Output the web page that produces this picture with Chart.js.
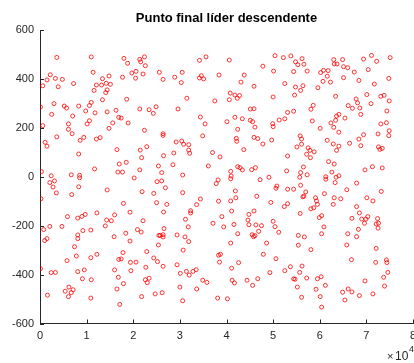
<!DOCTYPE html>
<html>
<head>
<meta charset="utf-8">
<script src="https://cdn.jsdelivr.net/npm/chart.js@4/dist/chart.umd.min.js"></script>
<style>
  html, body { margin: 0; padding: 0; background: #fff; }
</style>
</head>
<body>
<canvas id="c" width="414" height="363"></canvas>
<script>
// Scatter of descending-leader end points as [x, y] pairs.
const TITLE = 'Punto final líder descendente';
const X_TICKS = [0, 10000, 20000, 30000, 40000, 50000, 60000, 70000, 80000];
const Y_TICKS = [-600, -400, -200, 0, 200, 400, 600];

// upper band, x 0 .. 2.6e4
const ptsA = [
  [3600,488],[11000,490],[18000,484],[21400,480],[21600,470],[22400,490],[18800,464],[22600,454],
  [2200,417],[600,372],[1500,396],[3300,402],[4800,398],[3900,368],[7200,381],[11400,427],
  [13400,401],[14800,412],[12100,375],[13200,375],[14200,382],[15100,378],[11600,353],[14400,355],
  [14100,344],[17700,407],[19700,424],[20600,431],[20500,403],[22100,420],[25600,427],[18600,317],
  [13400,315],[100,285],[3000,299],[5200,289],[5700,281],[8300,289],[10600,291],[11000,304],
  [9800,269],[11800,261],[14400,265],[16300,272],[16900,243],[17400,240],[2500,255],[7000,248],
  [10600,229],[21400,277],[23400,274],[24900,286],[24300,259]
];
// middle band, x 0 .. 2.6e4
const ptsB = [
  [600,209],[6100,216],[6100,194],[6900,176],[10100,216],[15600,220],[14800,198],[18900,220],
  [22400,190],[3600,163],[1100,141],[1500,125],[8600,149],[9400,161],[12100,154],[12900,160],
  [8300,93],[16500,111],[21500,109],[22900,123],[21800,78],[17000,52],[18500,59],[25400,44],
  [300,21],[11700,32],[16700,19],[17700,19],[21400,28],[6700,8],[8500,6],[8500,-4],
  [2400,4],[20200,-5],[3100,-17],[2100,-24],[25100,-20],[2800,-42],[8300,-41],[3500,-66],
  [6800,-73],[14400,-54],[21900,-61],[24400,-68],[200,-90],[17900,-109],[25000,-106],[12200,-148],
  [19300,-145],[9700,-154],[9000,-162],[8100,-169],[5900,-163],[16000,-156],[14300,-177],[15300,-180],
  [22100,-180]
];
// lower band, x 0 .. 2.6e4
const ptsC = [
  [800,-216],[2100,-203],[4700,-203],[1000,-261],[1500,-253],[8100,-238],[8100,-253],[9200,-220],
  [10900,-218],[14000,-201],[15900,-245],[18400,-231],[20900,-216],[21700,-226],[19300,-263],[25500,-240],
  [25400,-279],[7400,-286],[17800,-310],[22900,-306],[7800,-324],[12200,-317],[10900,-331],[16900,-338],
  [17400,-336],[5800,-343],[19400,-350],[20600,-349],[24400,-332],[25200,-347],[22700,-370],[100,-376],
  [2400,-392],[3300,-391],[8100,-388],[9500,-381],[16000,-381],[19500,-384],[9100,-417],[11000,-421],
  [16800,-411],[17900,-437],[22600,-421],[23000,-433],[23400,-415],[6200,-451],[5400,-468],[7100,-462],
  [6700,-474],[6100,-490],[1600,-484],[16500,-459],[10900,-496],[21800,-490],[24700,-479],[17100,-522],
  [30600,-507]
];
// upper band, x 2.6e4 .. 5.2e4
const ptsD = [
  [34200,476],[35600,490],[40600,477],[50400,495],[26400,398],[28900,407],[30500,427],[30300,385],
  [34200,404],[34600,413],[35100,400],[38400,416],[43800,416],[43100,387],[45900,370],[47800,452],
  [50100,432],[31500,321],[37500,310],[40800,342],[40600,315],[41800,334],[42800,332],[42300,321],
  [50000,326],[29600,277],[45100,277],[45900,278],[34400,244],[41800,243],[43400,237],[40100,225],
  [45100,231],[45600,225],[35400,216],[49900,217],[51300,232]
];
// middle band, x 2.6e4 .. 5.2e4
const ptsE = [
  [50000,205],[42400,194],[46100,203],[26400,176],[26400,169],[34900,167],[42100,157],[42200,145],
  [45900,161],[46700,156],[49700,150],[47800,134],[29200,142],[30400,146],[30800,133],[31900,131],
  [31900,109],[32100,96],[28700,97],[26500,86],[37000,99],[38600,81],[43700,111],[28500,49],
  [36100,44],[42400,41],[42900,37],[43400,28],[45400,29],[46200,37],[40900,22],[26100,17],
  [30600,7],[41000,3],[40900,-8],[26100,-17],[38200,-13],[37800,-28],[47200,-12],[49100,-2],
  [50800,-38],[50600,-47],[26900,-45],[30600,-65],[41900,-58],[42000,-86],[46500,-80],[34400,-91],
  [38300,-100],[40900,-99],[27200,-113],[33600,-114],[49500,-105],[26500,-144],[32300,-139],[32300,-148],
  [41100,-140],[45900,-140],[44800,-154],[39000,-163],[31200,-174],[44600,-177]
];
// lower band, x 2.6e4 .. 5.2e4
const ptsF = [
  [37100,-190],[39400,-205],[41600,-195],[44800,-196],[46300,-197],[47500,-200],[50000,-182],[50400,-204],
  [26600,-212],[31800,-205],[25800,-240],[26400,-237],[26400,-246],[29400,-238],[31100,-246],[31900,-265],
  [30700,-300],[42400,-233],[45500,-237],[45800,-245],[46100,-241],[46900,-223],[51200,-227],[40900,-271],
  [48600,-271],[38300,-321],[38700,-317],[47900,-317],[26400,-366],[29400,-360],[38500,-349],[42600,-351],
  [50600,-335],[41100,-374],[30100,-395],[31400,-387],[32800,-387],[33500,-380],[32000,-402],[34900,-423],
  [35800,-432],[41200,-423],[41700,-434],[44400,-423],[46700,-417],[49300,-392],[45600,-444],[30000,-451],
  [33600,-459],[26200,-474],[38100,-496],[40200,-499]
];
// upper band, x 5.2e4 .. 7.6e4
const ptsG = [
  [52200,487],[53800,494],[54800,470],[55300,458],[56200,483],[56600,460],[54400,430],[57300,432],
  [63000,479],[63100,461],[63700,461],[64900,479],[65100,450],[66000,446],[69400,481],[71100,496],
  [72200,472],[75100,487],[60800,435],[61800,434],[60200,426],[61600,411],[67400,428],[70400,438],
  [65100,405],[60700,390],[62300,387],[68400,394],[74800,402],[52500,381],[54800,367],[56400,372],
  [59600,364],[71700,379],[55900,353],[54600,334],[63400,329],[67800,318],[68100,302],[70100,336],
  [73100,329],[73800,333],[74900,310],[71000,299],[58600,292],[58100,276],[66100,291],[67000,280],
  [68600,281],[68800,255],[74400,269],[53100,263],[54400,268],[52500,237],[63600,248],[64100,255],
  [63400,231],[65400,240],[58400,228],[62400,220],[74300,221],[73100,216]
];
// middle band, x 5.2e4 .. 7.6e4
const ptsH = [
  [60100,198],[63000,202],[64100,182],[74900,188],[74800,168],[72500,175],[69400,172],[68400,154],
  [55800,167],[56100,154],[61600,149],[56100,133],[55100,122],[62900,134],[64100,125],[63600,108],
  [66400,137],[68800,127],[72600,122],[73400,116],[72900,112],[57500,118],[57900,108],[58800,102],
  [57200,92],[58000,78],[53100,85],[61900,62],[63100,52],[56500,40],[69700,28],[71300,41],
  [73400,36],[52900,24],[55900,17],[62600,19],[57300,8],[55700,-2],[61300,0],[61300,-10],
  [63500,-2],[64100,4],[63300,-24],[67900,-26],[55900,-35],[53100,-51],[54400,-51],[57000,-62],
  [56600,-79],[56400,-82],[65800,-53],[73200,-60],[61000,-69],[63100,-86],[64500,-90],[59100,-86],
  [59300,-99],[59500,-113],[70100,-86],[71400,-99],[53100,-110],[52400,-122],[62900,-113],[58100,-131],
  [58700,-127],[67900,-122],[55800,-150],[68500,-148],[59900,-167],[60400,-159],[66900,-170],[69000,-173],
  [69900,-173],[70300,-163],[72400,-171],[69600,-190],[72100,-193],[72600,-190]
];
// lower band, x 5.2e4 .. 7.6e4
const ptsI = [
  [72500,-210],[60900,-205],[55400,-240],[56700,-246],[60400,-233],[66000,-233],[68300,-215],[67900,-245],
  [55400,-280],[58100,-298],[65800,-279],[72100,-293],[66800,-339],[72000,-350],[74300,-340],[74400,-351],
  [53700,-368],[56200,-365],[52500,-384],[55700,-391],[74600,-391],[54400,-417],[54700,-419],[57200,-414],
  [59500,-417],[60300,-409],[73700,-411],[69700,-426],[55200,-451],[61200,-444],[73900,-447],[59200,-460],
  [66100,-459],[66900,-471],[64900,-472],[71400,-479],[56100,-493],[60100,-490],[68500,-486],[65400,-504],
  [60400,-533]
];

const INK = '#262626';
const RED = '#ff0000';
const FONT = "'Liberation Sans', Arial, Helvetica, sans-serif";

const allPts = [ptsA, ptsB, ptsC, ptsD, ptsE, ptsF, ptsG, ptsH, ptsI]
  .flat().map(([x, y]) => ({ x, y }));

// MATLAB-style inward ticks, x labels (last one runs off the edge), title, x10^4 exponent
const matlabDecor = {
  id: 'matlabDecor',
  afterDraw(chart) {
    const { ctx, chartArea: a, scales: { x, y } } = chart;
    ctx.save();
    ctx.strokeStyle = INK; ctx.lineWidth = 1;
    ctx.beginPath();
    X_TICKS.forEach((v) => {
      const p = Math.round(x.getPixelForValue(v)) + 0.5;
      ctx.moveTo(p, a.bottom); ctx.lineTo(p, a.bottom - 4);
    });
    Y_TICKS.forEach((v) => {
      const p = Math.round(y.getPixelForValue(v)) + 0.5;
      ctx.moveTo(a.left, p); ctx.lineTo(a.left + 4, p);
    });
    ctx.stroke();

    ctx.fillStyle = INK;
    ctx.font = `11px ${FONT}`;
    ctx.textAlign = 'center'; ctx.textBaseline = 'middle';
    X_TICKS.forEach((v) => ctx.fillText(String(v / 10000), x.getPixelForValue(v), a.bottom + 12));

    ctx.fillStyle = '#000';
    ctx.font = `bold 13px ${FONT}`;
    ctx.textAlign = 'center'; ctx.textBaseline = 'alphabetic';
    ctx.fillText(TITLE, (a.left + a.right) / 2, 22);

    ctx.fillStyle = INK; ctx.textAlign = 'left';
    ctx.font = `11px ${FONT}`;
    ctx.fillText('\u00d7', 387, 360);
    ctx.font = `12px ${FONT}`;
    ctx.fillText('10', 395, 360);
    ctx.font = `9px ${FONT}`;
    ctx.fillText('4', 409, 352);
    ctx.restore();
  }
};

new Chart(document.getElementById('c').getContext('2d'), {
  type: 'scatter',
  data: {
    datasets: [{
      data: allPts,
      borderColor: RED, backgroundColor: 'rgba(0,0,0,0)',
      borderWidth: 0.8, pointRadius: 2, pointHoverRadius: 2, pointStyle: 'circle'
    }]
  },
  options: {
    responsive: false, animation: false, devicePixelRatio: 1,
    layout: { autoPadding: false, padding: { top: 30, right: 1, left: 0, bottom: 0 } },
    plugins: { legend: { display: false }, tooltip: { enabled: false }, title: { display: false } },
    scales: {
      x: {
        type: 'linear', min: 0, max: 80000,
        afterBuildTicks: (s) => { s.ticks = X_TICKS.map((v) => ({ value: v })); },
        afterFit: (s) => { s.height = 39.5; },
        grid: { display: false, drawTicks: false },
        border: { display: true, color: INK, width: 1 },
        ticks: { display: false }
      },
      y: {
        type: 'linear', min: -600, max: 600,
        afterBuildTicks: (s) => { s.ticks = Y_TICKS.map((v) => ({ value: v })); },
        afterFit: (s) => { s.width = 40; s.paddingTop = 0; s.paddingBottom = 0; },
        grid: { display: false, drawTicks: false },
        border: { display: true, color: INK, width: 1 },
        ticks: { color: INK, font: { family: FONT, size: 11 }, padding: 6, autoSkip: false,
          callback: (v) => String(v) }
      }
    }
  },
  plugins: [matlabDecor]
});
</script>
</body>
</html>
